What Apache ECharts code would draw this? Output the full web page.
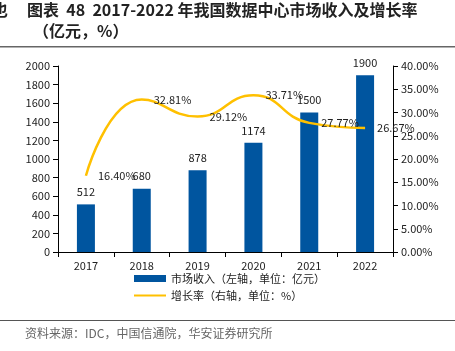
<!DOCTYPE html>
<html>
<head>
<meta charset="UTF-8">
<script src="https://cdn.jsdelivr.net/npm/echarts@6/dist/echarts.min.js"></script>
<style>
html, body { margin: 0; padding: 0; background: #fff; }
#chart { width: 455px; height: 351px; }
</style>
</head>
<body>
<div id="chart"></div>
<script>
// 数据
const years = ['2017', '2018', '2019', '2020', '2021', '2022'];
const revenue = [512, 680, 878, 1174, 1500, 1900];
const growth = [16.40, 32.81, 29.12, 33.71, 27.77, 26.67];

const FONT = '"Noto Sans CJK SC", "DejaVu Sans", sans-serif';

const chart = echarts.init(document.getElementById('chart'));

chart.setOption({
    animation: false,
    textStyle: { fontFamily: FONT },
    graphic: [
        { type: 'text', left: -8, top: 2, style: { text: '也', font: 'bold 16px ' + FONT, fill: '#222' } },
        { type: 'text', left: 27, top: 2, style: { text: '图表  48  2017-2022 年我国数据中心市场收入及增长率', font: 'bold 16px ' + FONT, fill: '#222' } },
        { type: 'text', left: 33, top: 23, style: { text: '（亿元，%）', font: 'bold 16px ' + FONT, fill: '#222' } },
        { type: 'rect', shape: { x: 0, y: 46, width: 455, height: 1.5 }, style: { fill: '#666' } },
        { type: 'rect', shape: { x: 0, y: 320, width: 455, height: 1 }, style: { fill: '#555' } },
        { type: 'text', left: 25, top: 327, style: { text: '资料来源：IDC，中国信通院，华安证券研究所', font: '12px ' + FONT, fill: '#666' } }
    ],
    legend: {
        orient: 'vertical',
        left: 128,
        top: 268,
        itemWidth: 32,
        itemHeight: 7,
        itemGap: 6,
        textStyle: { fontSize: 11, color: '#222' },
        data: [
            { name: '市场收入（左轴，单位：亿元）', icon: 'rect' },
            { name: '增长率（右轴，单位：%）', itemStyle: { opacity: 0 } }
        ]
    },
    grid: { left: 58, right: 62, top: 66, bottom: 99 },
    xAxis: {
        type: 'category',
        data: years,
        axisLine: { lineStyle: { color: '#000' } },
        axisTick: { show: true, lineStyle: { color: '#000' } },
        axisLabel: { color: '#222', fontSize: 11, margin: 8 }
    },
    yAxis: [
        {
            type: 'value',
            min: 0,
            max: 2000,
            interval: 200,
            splitLine: { show: false },
            axisLine: { show: true, lineStyle: { color: '#000' } },
            axisTick: { show: true, lineStyle: { color: '#000' } },
            axisLabel: { color: '#222', fontSize: 11, formatter: v => String(v) }
        },
        {
            type: 'value',
            min: 0,
            max: 40,
            interval: 5,
            splitLine: { show: false },
            axisLine: { show: true, lineStyle: { color: '#000' } },
            axisTick: { show: true, lineStyle: { color: '#000' } },
            axisLabel: { color: '#222', fontSize: 11, formatter: v => v.toFixed(2) + '%' }
        }
    ],
    series: [
        {
            name: '市场收入（左轴，单位：亿元）',
            type: 'bar',
            data: revenue,
            barWidth: 18,
            itemStyle: { color: '#00559F' },
            label: { show: true, position: 'top', distance: 7, color: '#222', fontSize: 11 }
        },
        {
            name: '增长率（右轴，单位：%）',
            type: 'line',
            yAxisIndex: 1,
            data: growth,
            smooth: true,
            symbol: 'circle',
            symbolSize: 0,
            showSymbol: true,
            lineStyle: { color: '#FFC000', width: 2.5 },
            itemStyle: { color: '#FFC000' },
            label: {
                show: true,
                position: 'right',
                distance: 12,
                color: '#222',
                fontSize: 11,
                formatter: p => p.value.toFixed(2) + '%'
            }
        }
    ]
});
</script>
</body>
</html>
